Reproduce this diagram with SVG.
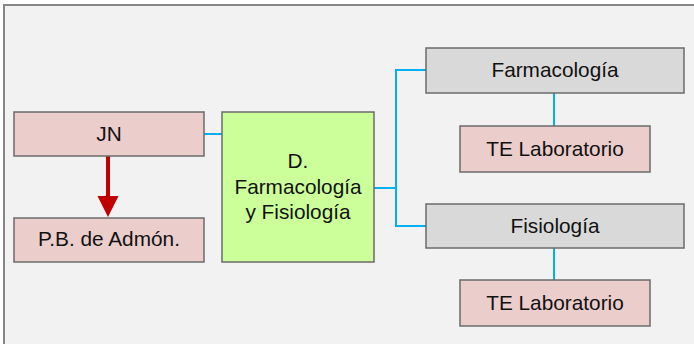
<svg xmlns="http://www.w3.org/2000/svg" width="694" height="344" viewBox="0 0 694 344">
<defs>
<style>
.box{stroke:#6b6b6b;stroke-width:1.5}
.pink{fill:#ebcdcc}
.gray{fill:#d9d9d9}
.green{fill:#ccff99}
.t{font-family:"Liberation Sans",Arial,sans-serif;font-size:20.8px;fill:#111;text-anchor:middle}
.c{stroke:#00b0f0;stroke-width:2;fill:none}
</style>
</defs>
<rect x="0" y="0" width="694" height="344" fill="#ffffff"/>
<rect x="4" y="5" width="700" height="350" fill="#f2f2f2" stroke="#868686" stroke-width="2"/>
<g id="connectors">
<line class="c" x1="204" y1="134" x2="222" y2="134"/>
<polyline class="c" points="374,188 396,188"/>
<polyline class="c" points="426,70 396,70 396,226 426,226"/>
<line class="c" x1="554" y1="93" x2="554" y2="126"/>
<line class="c" x1="554" y1="248" x2="554" y2="280"/>
<path d="M108,156 V198" stroke="#c00000" stroke-width="4" fill="none"/>
<path d="M97.5,196 L118.5,196 L108,217 Z" fill="#c00000"/>
</g>
<g id="jn">
<rect class="box pink" x="14" y="112" width="190" height="44"/>
<text class="t" x="109" y="141">JN</text>
</g>
<g id="pb">
<rect class="box pink" x="14" y="218" width="190" height="44"/>
<text class="t" x="109" y="246">P.B. de Admón.</text>
</g>
<g id="dfarm">
<rect class="box green" x="222" y="112" width="152" height="150"/>
<text class="t" x="298" y="168">D.</text>
<text class="t" x="298" y="193.5">Farmacología</text>
<text class="t" x="298" y="219">y Fisiología</text>
</g>
<g id="farm">
<rect class="box gray" x="426" y="48" width="258" height="45"/>
<text class="t" x="555" y="77">Farmacología</text>
</g>
<g id="te1">
<rect class="box pink" x="460" y="126" width="190" height="46"/>
<text class="t" x="555" y="156">TE Laboratorio</text>
</g>
<g id="fisio">
<rect class="box gray" x="426" y="204" width="258" height="44"/>
<text class="t" x="555" y="232.5">Fisiología</text>
</g>
<g id="te2">
<rect class="box pink" x="460" y="280" width="190" height="46"/>
<text class="t" x="555" y="310">TE Laboratorio</text>
</g>
</svg>
